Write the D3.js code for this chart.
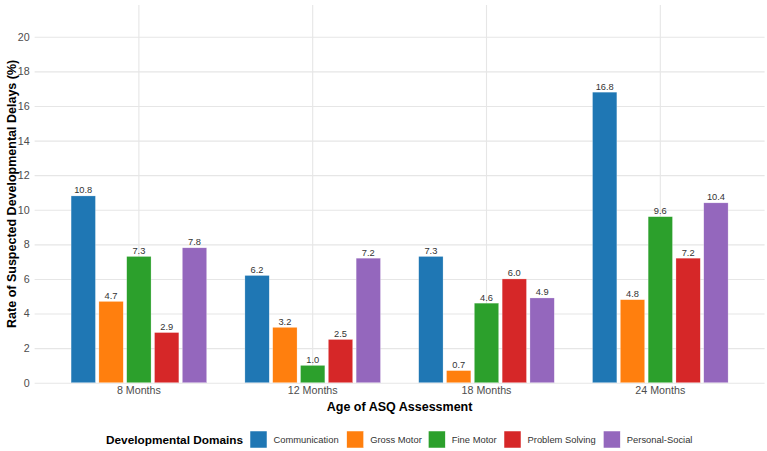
<!DOCTYPE html>
<html>
<head>
<meta charset="utf-8">
<script src="https://cdn.jsdelivr.net/npm/d3@7"></script>
<style>
  body { margin: 0; background: #fff; }
  svg { display: block; font-family: "Liberation Sans", Arial, sans-serif; }
</style>
</head>
<body>
<svg id="chart"></svg>
<script>
const ages = ["8 Months", "12 Months", "18 Months", "24 Months"];
const domains = ["Communication", "Gross Motor", "Fine Motor", "Problem Solving", "Personal-Social"];
const colors = ["#1f77b4", "#ff7f0e", "#2ca02c", "#d62728", "#9467bd"];
// rates per domain, in the order of ages
const communication = [10.8, 6.2, 7.3, 16.8];
const grossMotor = [4.7, 3.2, 0.7, 4.8];
const fineMotor = [7.3, 1.0, 4.6, 9.6];
const problemSolving = [2.9, 2.5, 6.0, 7.2];
const personalSocial = [7.8, 7.2, 4.9, 10.4];
const yTicks = [0, 2, 4, 6, 8, 10, 12, 14, 16, 18, 20];

const series = [communication, grossMotor, fineMotor, problemSolving, personalSocial];
const data = [];
ages.forEach((age, i) => {
  domains.forEach((dom, j) => data.push({ age, domain: dom, value: series[j][i] }));
});

const width = 767, height = 451;
const margin = { top: 5, right: 2.4, bottom: 68.3, left: 34.6 };

const svg = d3.select("#chart").attr("width", width).attr("height", height);

const x0 = d3.scaleBand().domain(ages)
  .range([margin.left, width - margin.right])
  .paddingInner(0).paddingOuter(0.1);
const x1 = d3.scaleBand().domain(domains)
  .range([0.1 * x0.step(), 0.9 * x0.step()])
  .paddingInner(0.125).paddingOuter(0.0625);
const y = d3.scaleLinear()
  .domain([0, d3.max(data, d => d.value) * 1.3])
  .range([height - margin.bottom, margin.top]);
const color = d3.scaleOrdinal().domain(domains).range(colors);

// gridlines
svg.append("g")
  .attr("transform", `translate(${margin.left},0)`)
  .call(d3.axisLeft(y).tickValues(yTicks).tickSize(-(width - margin.left - margin.right)).tickFormat(""))
  .call(g => g.select(".domain").remove())
  .call(g => g.selectAll(".tick line").attr("stroke", "#e6e6e6").attr("stroke-width", 1.1));

svg.append("g")
  .attr("transform", `translate(0,${height - margin.bottom})`)
  .call(d3.axisBottom(x0).tickSize(-(height - margin.top - margin.bottom)).tickFormat(""))
  .call(g => g.select(".domain").remove())
  .call(g => g.selectAll(".tick line").attr("stroke", "#e6e6e6").attr("stroke-width", 1.1));

// axis labels
svg.append("g")
  .attr("transform", `translate(${margin.left},0)`)
  .call(d3.axisLeft(y).tickValues(yTicks).tickSize(0).tickPadding(5))
  .call(g => g.select(".domain").remove())
  .call(g => g.selectAll("text").attr("font-size", 10.7).attr("fill", "#4d4d4d")
    .attr("font-family", "Liberation Sans, Arial, sans-serif"));

svg.append("g")
  .attr("transform", `translate(0,${height - margin.bottom})`)
  .call(d3.axisBottom(x0).tickSize(0).tickPadding(4))
  .call(g => g.select(".domain").remove())
  .call(g => g.selectAll("text").attr("font-size", 10.7).attr("fill", "#4d4d4d")
    .attr("font-family", "Liberation Sans, Arial, sans-serif"));

// bars
const groups = svg.selectAll(".age-group")
  .data(ages)
  .join("g")
  .attr("class", "age-group")
  .attr("transform", a => `translate(${x0(a)},0)`);

groups.selectAll("rect")
  .data(a => data.filter(d => d.age === a))
  .join("rect")
  .attr("x", d => x1(d.domain))
  .attr("width", x1.bandwidth())
  .attr("y", d => y(d.value))
  .attr("height", d => y(0) - y(d.value))
  .attr("fill", d => color(d.domain))
  .attr("stroke", "#ffffff")
  .attr("stroke-opacity", 0.5)
  .attr("stroke-width", 0.5);

groups.selectAll("text")
  .data(a => data.filter(d => d.age === a))
  .join("text")
  .attr("x", d => x1(d.domain) + x1.bandwidth() / 2)
  .attr("y", d => y(d.value) - 2.5)
  .attr("text-anchor", "middle")
  .attr("font-size", 9.3)
  .attr("fill", "#333333")
  .text(d => d.value.toFixed(1));

// axis titles
svg.append("text")
  .attr("transform", `translate(16,${(margin.top + height - margin.bottom) / 2}) rotate(-90)`)
  .attr("text-anchor", "middle")
  .attr("font-size", 12.5)
  .attr("font-weight", "bold")
  .attr("fill", "#000")
  .text("Rate of Suspected Developmental Delays (%)");

svg.append("text")
  .attr("x", (margin.left + width - margin.right) / 2)
  .attr("y", 411)
  .attr("text-anchor", "middle")
  .attr("font-size", 12.5)
  .attr("font-weight", "bold")
  .attr("fill", "#000")
  .text("Age of ASQ Assessment");

// legend
const legend = svg.append("g").attr("transform", "translate(0,431)");
legend.append("text")
  .attr("x", 106).attr("y", 13)
  .attr("font-size", 11.8).attr("font-weight", "bold").attr("fill", "#000")
  .text("Developmental Domains");

const keyX = [250, 346.7, 428.3, 504, 603.3];
domains.forEach((dom, i) => {
  const row = legend.append("g").attr("transform", `translate(${keyX[i]},0)`);
  row.append("rect").attr("width", 17).attr("height", 17)
    .attr("fill", color(dom)).attr("stroke", "#fff").attr("stroke-width", 0.5);
  row.append("text")
    .attr("x", 23.5).attr("y", 12.3)
    .attr("font-size", 9.4).attr("fill", "#333")
    .text(dom);
});
</script>
</body>
</html>
